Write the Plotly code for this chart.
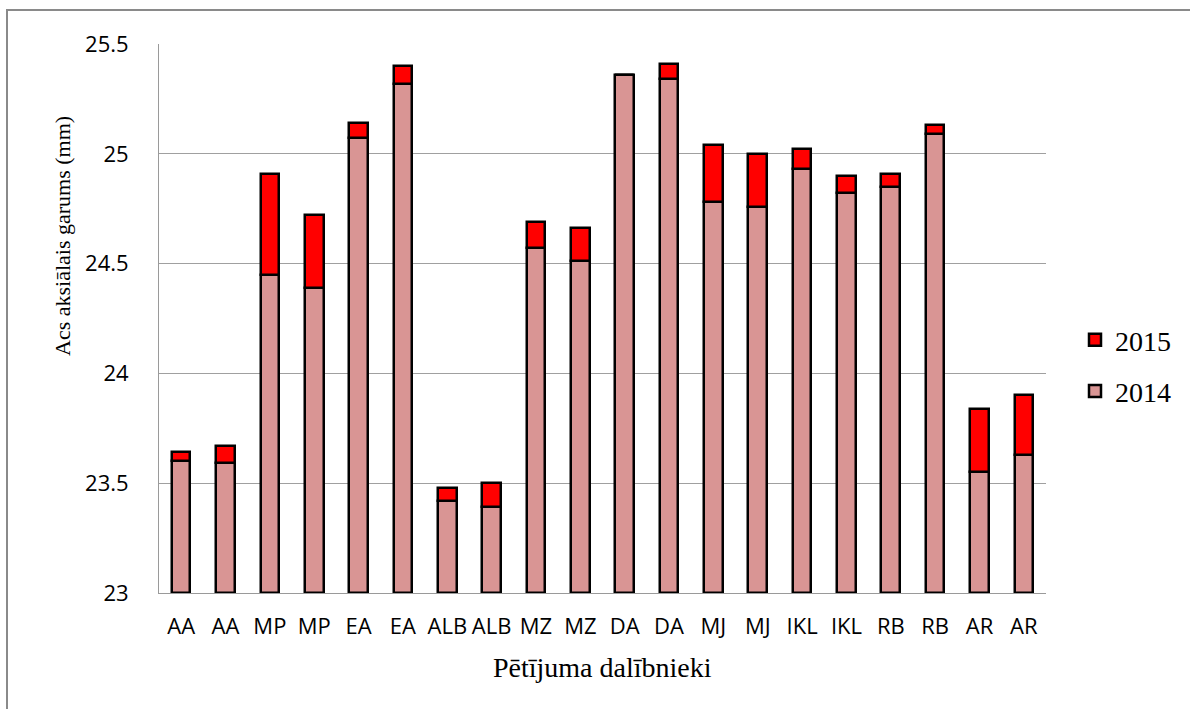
import plotly.graph_objects as go

# Dalībnieki (katrs divreiz: labā un kreisā acs)
dalibnieki = ["AA", "AA", "MP", "MP", "EA", "EA", "ALB", "ALB", "MZ", "MZ",
              "DA", "DA", "MJ", "MJ", "IKL", "IKL", "RB", "RB", "AR", "AR"]

# Acs aksiālais garums 2014. gadā (mm)
garums_2014 = [23.60, 23.59, 24.45, 24.39, 25.07, 25.32, 23.42, 23.39, 24.57, 24.51,
               25.36, 25.34, 24.78, 24.76, 24.93, 24.82, 24.85, 25.09, 23.55, 23.63]

# Pieaugums līdz 2015. gadam (mm), uzklāts virs 2014. gada stabiņa
pieaugums_2015 = [0.04, 0.08, 0.46, 0.33, 0.07, 0.08, 0.06, 0.11, 0.12, 0.15,
                  0.00, 0.07, 0.26, 0.24, 0.09, 0.08, 0.06, 0.04, 0.29, 0.27]

y_min, y_max = 23, 25.5
y_ticks = [23, 23.5, 24, 24.5, 25, 25.5]
y_tick_text = ["23", "23.5", "24", "24.5", "25", "25.5"]

x_idx = list(range(len(dalibnieki)))
bar_w = 0.42
outline = dict(color="#000000", width=2.5)

fig = go.Figure()
fig.add_trace(go.Bar(
    x=x_idx, y=[v - y_min for v in garums_2014], base=y_min,
    name="2014", legendgroup="g2014", legendrank=2, width=bar_w,
    marker=dict(color="#D99594", line=outline),
    customdata=garums_2014, hovertemplate="%{customdata:.2f} mm<extra>2014</extra>",
))
fig.add_trace(go.Bar(
    x=x_idx, y=pieaugums_2015, base=garums_2014,
    name="2015", legendgroup="g2015", legendrank=1, width=bar_w,
    marker=dict(color="#FF0000", line=outline),
    hovertemplate="+%{y:.2f} mm<extra>2015</extra>",
))

# plot area in pixels: x 159..1046, y 44..593
L, R, T, B = 159, 1046, 44, 593
W, H = 1190, 709
pw, ph = R - L, B - T


def px_x(p):
    return (p - L) / pw


def px_y(p):
    return (B - p) / ph


fig.update_layout(
    width=W, height=H,
    margin=dict(l=L, r=W - R, t=T, b=H - B, pad=0),
    paper_bgcolor="white", plot_bgcolor="white",
    barmode="overlay", bargap=0,
    showlegend=True,
    legend=dict(
        x=px_x(1075), y=px_y(315), xanchor="left", yanchor="top",
        traceorder="grouped", tracegroupgap=12,
        font=dict(family="Liberation Serif", size=28, color="#000000"),
        bgcolor="rgba(0,0,0,0)", borderwidth=0,
    ),
    xaxis=dict(
        range=[-0.5, len(dalibnieki) - 0.5],
        tickmode="array", tickvals=x_idx, ticktext=dalibnieki,
        showgrid=False, zeroline=False,
        showline=True, linecolor="#9a9a9a", linewidth=1,
        ticks="", ticklabelstandoff=14,
        tickfont=dict(family="Open Sans", size=22, color="#000000"),
        fixedrange=True,
    ),
    yaxis=dict(
        range=[y_min, y_max],
        tickmode="array", tickvals=y_ticks, ticktext=y_tick_text,
        showgrid=True, gridcolor="#a0a0a0", gridwidth=1,
        zeroline=False,
        showline=True, linecolor="#9a9a9a", linewidth=1,
        ticks="", ticklabelstandoff=25,
        tickfont=dict(family="Open Sans", size=22, color="#000000"),
        fixedrange=True,
    ),
    annotations=[
        dict(text="Acs aksiālais garums (mm)", xref="paper", yref="paper",
             x=px_x(62), y=px_y(236), xanchor="center", yanchor="middle",
             textangle=-90, showarrow=False,
             font=dict(family="Liberation Serif", size=22, color="#000000")),
        dict(text="Pētījuma dalībnieki", xref="paper", yref="paper",
             x=px_x(602), y=px_y(667), xanchor="center", yanchor="middle",
             showarrow=False,
             font=dict(family="Liberation Serif", size=28, color="#000000")),
    ],
    shapes=[
        dict(type="rect", xref="paper", yref="paper",
             x0=px_x(7), x1=px_x(1230), y0=px_y(760), y1=px_y(10),
             line=dict(color="#8a8a8a", width=2), fillcolor="rgba(0,0,0,0)",
             layer="below"),
    ],
)

fig.write_html("out.html")
